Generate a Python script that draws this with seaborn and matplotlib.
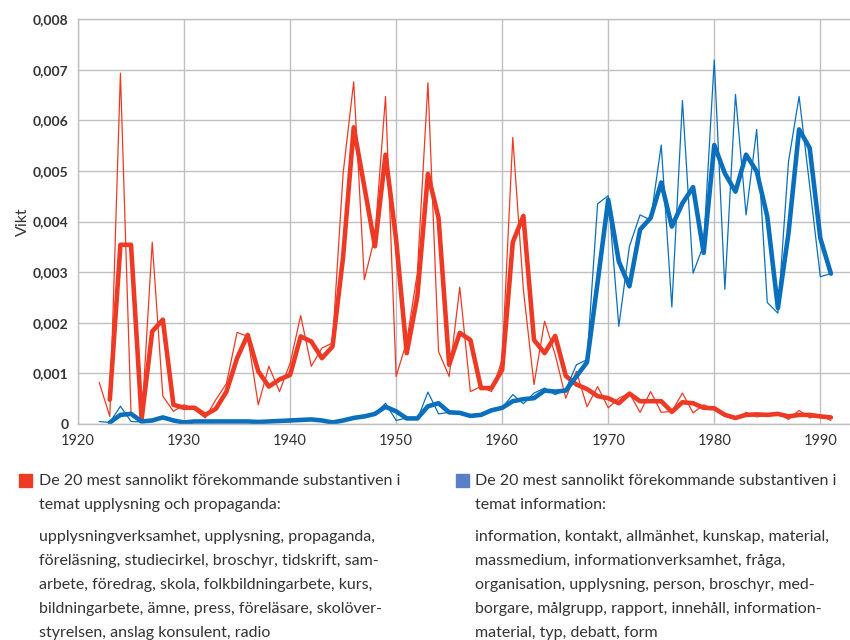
import matplotlib
matplotlib.use("Agg")
import matplotlib.pyplot as plt
from matplotlib.ticker import FuncFormatter
from matplotlib.patches import Rectangle
import pandas as pd
import seaborn as sns

# yearly values (thin lines) and smoothed values (thick lines)
years_thin = list(range(1922, 1992))
years_thick = list(range(1923, 1992))

red_thin = [0.00082, 0.00015, 0.00693, 0.0002, 0.00005, 0.00359, 0.00055, 0.00025, 0.00038, 0.00028,
            0.00012, 0.00048, 0.0008, 0.00181, 0.00173, 0.00038, 0.00114, 0.00064, 0.0012, 0.00214,
            0.00114, 0.0015, 0.0016, 0.00495, 0.00676, 0.00285, 0.0037, 0.00647, 0.00094, 0.00163,
            0.00298, 0.00674, 0.00143, 0.00094, 0.0027, 0.00064, 0.00074, 0.00064, 0.00127, 0.00566,
            0.00265, 0.00078, 0.00203, 0.00137, 0.00051, 0.00104, 0.00034, 0.00074, 0.00032, 0.00051,
            0.00061, 0.00023, 0.00064, 0.00023, 0.00025, 0.00061, 0.00022, 0.00038, 0.00028, 0.00016,
            0.00009, 0.00023, 0.00014, 0.00018, 0.00022, 0.00009, 0.00027, 0.00012, 0.00018, 0.00007]

red_thick = [0.00048, 0.00354, 0.00354, 0.0001, 0.00183, 0.00206, 0.00038, 0.00032, 0.00032, 0.00018,
             0.0003, 0.00064, 0.0013, 0.00176, 0.00104, 0.00074, 0.00088, 0.00097, 0.00173, 0.00163,
             0.0013, 0.00153, 0.0033, 0.00586, 0.00469, 0.00351, 0.00532, 0.00364, 0.0014, 0.00252,
             0.00494, 0.00407, 0.00117, 0.0018, 0.00166, 0.00071, 0.00071, 0.00107, 0.00359, 0.00411,
             0.00166, 0.0014, 0.00174, 0.00095, 0.00078, 0.00069, 0.00055, 0.00051, 0.00041, 0.0006,
             0.00045, 0.00045, 0.00045, 0.00024, 0.00043, 0.00041, 0.00032, 0.00031, 0.00018, 0.00012,
             0.00018, 0.00019, 0.00018, 0.0002, 0.00015, 0.00018, 0.00018, 0.00015, 0.00013]

blue_thin = [0.00005, 0.00003, 0.00035, 0.00005, 0.00004, 0.00007, 0.00012, 0.00006, 0.00004, 0.00005,
             0.00005, 0.00005, 0.00005, 0.00005, 0.00005, 0.00004, 0.00005, 0.00006, 0.00007, 0.00007,
             0.00008, 0.00006, 0.00004, 0.00006, 0.0001, 0.00015, 0.0002, 0.00041, 0.00007, 0.00012,
             0.00009, 0.00063, 0.0002, 0.00023, 0.00022, 0.00015, 0.0002, 0.0003, 0.00032, 0.00058,
             0.0004, 0.00061, 0.00071, 0.00058, 0.00068, 0.00117, 0.00127, 0.00435, 0.00451, 0.00193,
             0.00351, 0.00413, 0.00403, 0.00551, 0.00231, 0.00639, 0.00298, 0.00354, 0.00719, 0.00266,
             0.00651, 0.00413, 0.00582, 0.0024, 0.00219, 0.00518, 0.00647, 0.0047, 0.00291, 0.00297]

blue_thick = [0.00003, 0.00018, 0.0002, 0.00005, 0.00007, 0.00013, 0.00007, 0.00003, 0.00005, 0.00005,
              0.00005, 0.00005, 0.00005, 0.00005, 0.00004, 0.00005, 0.00006, 0.00007, 0.00008, 0.00009,
              0.00007, 0.00003, 0.00007, 0.00012, 0.00015, 0.0002, 0.00034, 0.00025, 0.00011, 0.00011,
              0.00035, 0.00041, 0.00023, 0.00022, 0.00016, 0.00018, 0.00027, 0.00032, 0.00045, 0.00049,
              0.00051, 0.00066, 0.00064, 0.00066, 0.00094, 0.00122, 0.0028, 0.00443, 0.00321, 0.00272,
              0.00384, 0.00407, 0.00477, 0.0039, 0.00436, 0.00468, 0.00338, 0.00551, 0.00495, 0.00459,
              0.00532, 0.00499, 0.0041, 0.00229, 0.00377, 0.00582, 0.00545, 0.00367, 0.00297]

y_ticks = [0, 0.001, 0.002, 0.003, 0.004, 0.005, 0.006, 0.007, 0.008]
x_ticks = [1920, 1930, 1940, 1950, 1960, 1970, 1980, 1990]

legend_red = ["De 20 mest sannolikt förekommande substantiven i",
              "temat upplysning och propaganda:"]
words_red = ["upplysningverksamhet, upplysning, propaganda,",
             "föreläsning, studiecirkel, broschyr, tidskrift, sam-",
             "arbete, föredrag, skola, folkbildningarbete, kurs,",
             "bildningarbete, ämne, press, föreläsare, skolöver-",
             "styrelsen, anslag konsulent, radio"]
legend_blue = ["De 20 mest sannolikt förekommande substantiven i",
               "temat information:"]
words_blue = ["information, kontakt, allmänhet, kunskap, material,",
              "massmedium, informationverksamhet, fråga,",
              "organisation, upplysning, person, broschyr, med-",
              "borgare, målgrupp, rapport, innehåll, information-",
              "material, typ, debatt, form"]

RED = "#ee3a24"
BLUE = "#0a6fbd"
GRID = "#c0c0c0"
TXT = "#333333"

sns.set_theme(style="white")
plt.rcParams['font.family'] = ['Lato', 'DejaVu Sans']

W, H = 850, 640
fig = plt.figure(figsize=(8.5, 6.4), dpi=100)
ax = fig.add_axes([78 / W, 1 - 424 / H, (W - 78) / W, (424 - 19) / H])

thin = pd.DataFrame({'year': years_thin, 'red': red_thin, 'blue': blue_thin})
thick = pd.DataFrame({'year': years_thick, 'red': red_thick, 'blue': blue_thick})

sns.lineplot(data=thin, x='year', y='red', color=RED, lw=0.9, ax=ax)
sns.lineplot(data=thick, x='year', y='red', color=RED, lw=3.3, ax=ax)
sns.lineplot(data=thin, x='year', y='blue', color=BLUE, lw=0.9, ax=ax)
sns.lineplot(data=thick, x='year', y='blue', color=BLUE, lw=3.3, ax=ax)

ax.set_xlim(1920, 1992.8)
ax.set_ylim(0, 0.008)
ax.set_xticks(x_ticks)
ax.set_yticks(y_ticks)
ax.yaxis.set_major_formatter(FuncFormatter(
    lambda v, p: "0" if v == 0 else ("%.3f" % v).replace(".", ",")))
ax.grid(True, color=GRID, lw=1.0)
ax.set_axisbelow(True)
for s in ['left', 'bottom', 'top']:
    ax.spines[s].set_color(GRID)
    ax.spines[s].set_linewidth(1.0)
ax.spines['right'].set_visible(False)
ax.tick_params(axis='both', length=0, pad=7)
for lab in ax.get_yticklabels():
    lab.set_fontweight('bold')
    lab.set_fontsize(10)
    lab.set_color(TXT)
for lab in ax.get_xticklabels():
    lab.set_fontsize(10.5)
    lab.set_color(TXT)
ax.set_xlabel("")
ax.set_ylabel("Vikt", fontsize=11.5, color=TXT, labelpad=2)

# legend / explanation text under the chart
def block(x_sq, x_txt, color, head, words):
    fig.patches.append(Rectangle((x_sq / W, 1 - 487 / H), 13 / W, 13 / H,
                                 transform=fig.transFigure, color=color))
    ys = [481, 505]
    for y, t in zip(ys, head):
        fig.text(x_txt / W, 1 - y / H, t, fontsize=11.5, color=TXT, va='center')
    ys = [537, 561, 585, 609, 633]
    for y, t in zip(ys, words):
        fig.text(x_txt / W, 1 - y / H, t, fontsize=11.5, color=TXT, va='center')

block(19, 39, RED, legend_red, words_red)
block(456, 475, "#5a7fc6", legend_blue, words_blue)

fig.savefig("out.png", dpi=100)
